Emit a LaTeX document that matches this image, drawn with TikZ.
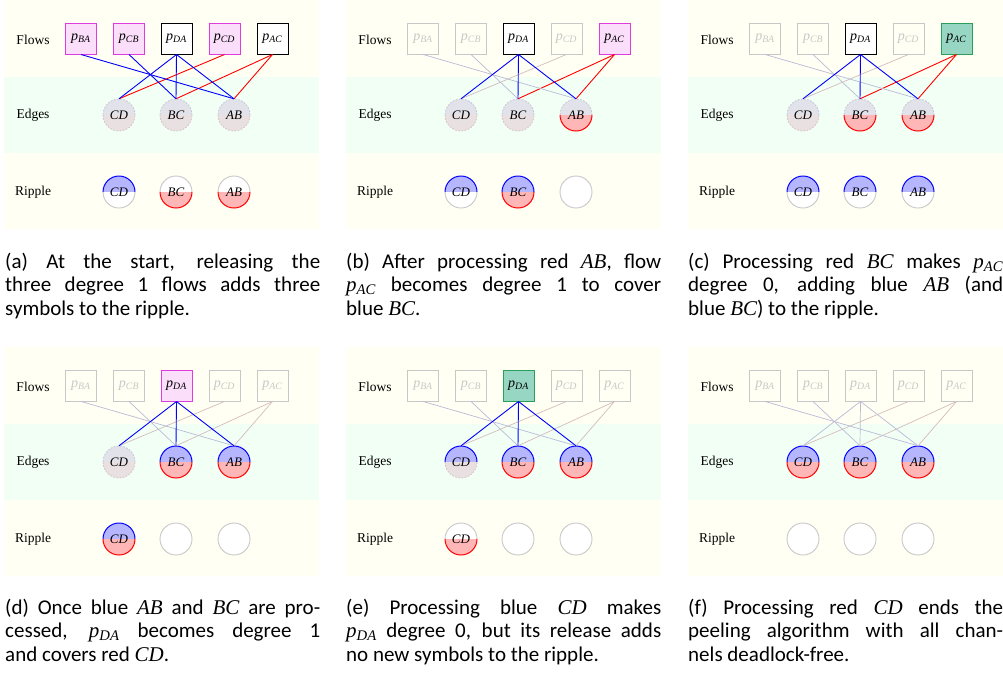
\documentclass[tikz,border=0pt]{standalone}
\usepackage{fontspec}
\setmainfont{Liberation Serif}
\newfontfamily\capfont{Carlito}
\newcommand\mv[2]{\textit{#1}\textsubscript{\textit{#2}}}
\newcommand\mi[1]{{\rmfamily\itshape #1}}
\definecolor{bgY}{RGB}{255,255,243}
\definecolor{bgG}{RGB}{242,255,245}
\definecolor{magC}{RGB}{222,60,222}
\definecolor{magF}{RGB}{250,222,250}
\definecolor{grnC}{RGB}{40,160,90}
\definecolor{grnF}{RGB}{152,214,196}
\definecolor{fadeC}{RGB}{200,200,200}
\definecolor{fadeB}{RGB}{186,186,216}
\definecolor{fadeR}{RGB}{212,188,190}
\definecolor{cblueF}{RGB}{182,182,255}
\definecolor{credF}{RGB}{255,182,182}
\definecolor{cunkTF}{RGB}{226,226,234}
\definecolor{cunkBF}{RGB}{233,224,226}
\definecolor{unkTC}{RGB}{196,196,214}
\definecolor{unkBC}{RGB}{214,192,198}
\definecolor{emptyC}{RGB}{200,200,200}
\tikzset{
  lab/.style={font=\fontsize{13.5}{15}\selectfont, inner sep=0pt},
  flowbox/.style={minimum size=31pt, inner sep=0pt, font=\fontsize{14}{15}\selectfont},
  fN/.style={draw=black, fill=white, line width=1pt},
  fM/.style={draw=magC, fill=magF, line width=1pt},
  fG/.style={draw=grnC, fill=grnF, line width=1pt},
  fF/.style={draw=fadeC, text=fadeC, line width=0.9pt},
  dtext/.style={circle, minimum size=32pt, inner sep=0pt, font=\fontsize{13}{15}\selectfont},
  lB/.style={draw=blue, line width=0.9pt},
  lR/.style={draw=red, line width=0.9pt},
  lFB/.style={draw=fadeB, line width=0.7pt},
  lFR/.style={draw=fadeR, line width=0.7pt},
  blueF/.style={fill=cblueF},
  blueD/.style={draw=blue, line width=1pt},
  redF/.style={fill=credF},
  redD/.style={draw=red, line width=1pt},
  unkTF/.style={fill=cunkTF},
  unkTD/.style={draw=unkTC, line width=0.8pt, dash pattern=on 1.6pt off 1.6pt},
  unkBF/.style={fill=cunkBF},
  unkBD/.style={draw=unkBC, line width=0.8pt, dash pattern=on 1.6pt off 1.6pt},
  emptyF/.style={fill=white},
  emptyD/.style={draw=emptyC, line width=0.9pt},
  capnode/.style={anchor=north west, text width=315pt, align=justify, inner sep=0pt,
    font=\capfont\fontsize{21}{23.5}\selectfont}
}
\newcommand\disc[5]{%
  \fill[#3F] (#2) ++(16,0) arc[start angle=0,end angle=180,radius=16] -- cycle;
  \fill[#4F] (#2) ++(-16,0) arc[start angle=180,end angle=360,radius=16] -- cycle;
  \draw[#3D] (#2) ++(16,0) arc[start angle=0,end angle=180,radius=16];
  \draw[#4D] (#2) ++(-16,0) arc[start angle=180,end angle=360,radius=16];
  \node[dtext] (#1) at (#2) {#5};
}
\newcommand\panelbase[7]{%
  \fill[bgY] (0,0) rectangle (315,-229);
  \fill[bgG] (0,-77) rectangle (315,-153);
  \node[lab] (#1lf) at (29,-40) {Flows};
  \node[lab] (#1le) at (29,-115) {Edges};
  \node[lab] (#1lr) at (29,-192) {Ripple};
  \node[flowbox,f1] (#1BA) at (77,-38.5) {\mv{p}{BA}};
  \node[flowbox,f2] (#1CB) at (125,-38.5) {\mv{p}{CB}};
  \node[flowbox,f3] (#1DA) at (172.5,-38.5) {\mv{p}{DA}};
  \node[flowbox,f4] (#1CDf) at (220.5,-38.5) {\mv{p}{CD}};
  \node[flowbox,f5] (#1AC) at (268.5,-38.5) {\mv{p}{AC}};
  \disc{#1eCD}{115,-115}{#2}{#3}{\textit{CD}}
  \disc{#1eBC}{172,-115}{#4}{#5}{\textit{BC}}
  \disc{#1eAB}{230,-115}{#6}{#7}{\textit{AB}}
  \draw[l6] (#1CDf.south) -- (#1eCD.north);
  \draw[l7] (#1AC.south) -- (#1eBC.north);
  \draw[l8] (#1AC.south) -- (#1eAB.north);
  \draw[l1] (#1BA.south) -- (#1eAB.north);
  \draw[l2] (#1CB.south) -- (#1eBC.north);
  \draw[l3] (#1DA.south) -- (#1eCD.north);
  \draw[l4] (#1DA.south) -- (#1eBC.north);
  \draw[l5] (#1DA.south) -- (#1eAB.north);
}
\begin{document}
\begin{tikzpicture}[x=1pt,y=1pt]
\useasboundingbox (0,0) rectangle (1003,-681);
% (a)
\begin{scope}[shift={(4,0)}, f1/.style={fM}, f2/.style={fM}, f3/.style={fN}, f4/.style={fM}, f5/.style={fN},
  l1/.style={lB}, l2/.style={lB}, l3/.style={lB}, l4/.style={lB}, l5/.style={lB}, l6/.style={lR}, l7/.style={lR}, l8/.style={lR}]
  \panelbase{a}{unkT}{unkB}{unkT}{unkB}{unkT}{unkB}
  \disc{arCD}{115,-192}{blue}{empty}{\textit{CD}}
  \disc{arBC}{172,-192}{empty}{red}{\textit{BC}}
  \disc{arAB}{230,-192}{empty}{red}{\textit{AB}}
\end{scope}
% (b)
\begin{scope}[shift={(346,0)}, f1/.style={fF}, f2/.style={fF}, f3/.style={fN}, f4/.style={fF}, f5/.style={fM},
  l1/.style={lFB}, l2/.style={lFB}, l3/.style={lB}, l4/.style={lB}, l5/.style={lB}, l6/.style={lFR}, l7/.style={lR}, l8/.style={lR}]
  \panelbase{b}{unkT}{unkB}{unkT}{unkB}{unkT}{red}
  \disc{brCD}{115,-192}{blue}{empty}{\textit{CD}}
  \disc{brBC}{172,-192}{blue}{red}{\textit{BC}}
  \disc{brAB}{230,-192}{empty}{empty}{}
\end{scope}
% (c)
\begin{scope}[shift={(688,0)}, f1/.style={fF}, f2/.style={fF}, f3/.style={fN}, f4/.style={fF}, f5/.style={fG},
  l1/.style={lFB}, l2/.style={lFB}, l3/.style={lB}, l4/.style={lB}, l5/.style={lB}, l6/.style={lFR}, l7/.style={lR}, l8/.style={lR}]
  \panelbase{c}{unkT}{unkB}{unkT}{red}{unkT}{red}
  \disc{crCD}{115,-192}{blue}{empty}{\textit{CD}}
  \disc{crBC}{172,-192}{blue}{empty}{\textit{BC}}
  \disc{crAB}{230,-192}{blue}{empty}{\textit{AB}}
\end{scope}
% (d)
\begin{scope}[shift={(4,-347)}, f1/.style={fF}, f2/.style={fF}, f3/.style={fM}, f4/.style={fF}, f5/.style={fF},
  l1/.style={lFB}, l2/.style={lFB}, l3/.style={lB}, l4/.style={lB}, l5/.style={lB}, l6/.style={lFR}, l7/.style={lFR}, l8/.style={lFR}]
  \panelbase{d}{unkT}{unkB}{blue}{red}{blue}{red}
  \disc{drCD}{115,-192}{blue}{red}{\textit{CD}}
  \disc{drBC}{172,-192}{empty}{empty}{}
  \disc{drAB}{230,-192}{empty}{empty}{}
\end{scope}
% (e)
\begin{scope}[shift={(346,-347)}, f1/.style={fF}, f2/.style={fF}, f3/.style={fG}, f4/.style={fF}, f5/.style={fF},
  l1/.style={lFB}, l2/.style={lFB}, l3/.style={lB}, l4/.style={lB}, l5/.style={lB}, l6/.style={lFR}, l7/.style={lFR}, l8/.style={lFR}]
  \panelbase{e}{blue}{unkB}{blue}{red}{blue}{red}
  \disc{erCD}{115,-192}{empty}{red}{\textit{CD}}
  \disc{erBC}{172,-192}{empty}{empty}{}
  \disc{erAB}{230,-192}{empty}{empty}{}
\end{scope}
% (f)
\begin{scope}[shift={(688,-347)}, f1/.style={fF}, f2/.style={fF}, f3/.style={fF}, f4/.style={fF}, f5/.style={fF},
  l1/.style={lFB}, l2/.style={lFB}, l3/.style={lFB}, l4/.style={lFB}, l5/.style={lFB}, l6/.style={lFR}, l7/.style={lFR}, l8/.style={lFR}]
  \panelbase{f}{blue}{red}{blue}{red}{blue}{red}
  \disc{frCD}{115,-192}{empty}{empty}{}
  \disc{frBC}{172,-192}{empty}{empty}{}
  \disc{frAB}{230,-192}{empty}{empty}{}
\end{scope}
% captions
\node[capnode] (capa) at (5,-251.5) {\strut(a) At the start, releasing the\linebreak three degree 1 flows adds three\linebreak symbols to the ripple.};
\node[capnode] (capb) at (346,-251.5) {\strut(b) After processing red \mi{AB}, flow\linebreak \mi{\mv{p}{AC}} becomes degree 1 to cover\linebreak blue \mi{BC}.};
\node[capnode] (capc) at (688,-251.5) {\strut(c) Processing red \mi{BC} makes \mi{\mv{p}{AC}}\linebreak degree 0, adding blue \mi{AB} (and\linebreak blue \mi{BC}) to the ripple.};
\node[capnode] (capd) at (5,-597.5) {\strut(d) Once blue \mi{AB} and \mi{BC} are pro-\linebreak cessed, \mi{\mv{p}{DA}} becomes degree 1\linebreak and covers red \mi{CD}.};
\node[capnode] (cape) at (346,-597.5) {\strut(e) Processing blue \mi{CD} makes\linebreak \mi{\mv{p}{DA}} degree 0, but its release adds\linebreak no new symbols to the ripple.};
\node[capnode] (capf) at (688,-597.5) {\strut(f) Processing red \mi{CD} ends the\linebreak peeling algorithm with all chan-\linebreak nels deadlock-free.};
\end{tikzpicture}
\end{document}
